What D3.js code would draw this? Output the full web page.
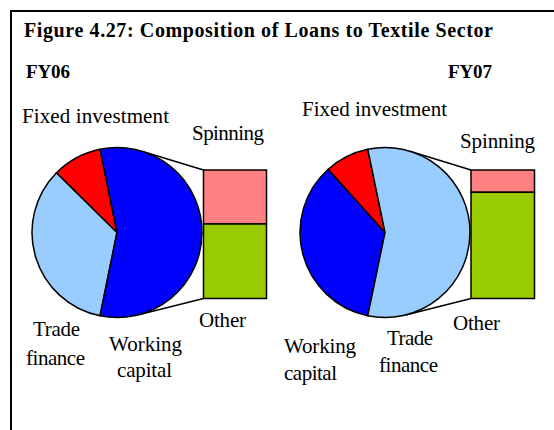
<!DOCTYPE html>
<html>
<head>
<meta charset="utf-8">
<script src="https://cdn.jsdelivr.net/npm/d3@7/dist/d3.min.js"></script>
<style>
    body { margin: 0; background: #fff; }
    svg { display: block; }
</style>
</head>
<body>
<script>
// chart values
var years = ["FY06", "FY07"];
var pieOrderFY06 = ["Trade finance", "Fixed investment", "Working capital"];
var pieValuesFY06 = [34.2, 9.4, 56.4];
var pieOrderFY07 = ["Working capital", "Fixed investment", "Trade finance"];
var pieValuesFY07 = [35.1, 8.4, 56.5];
var barCategories = ["Spinning", "Other"];
var barValuesFY06 = [23.7, 32.7];   // breakdown of the last pie slice
var barValuesFY07 = [9.8, 46.7];

var sliceColors = {
    "Fixed investment": "#FF0000",
    "Trade finance": "#99CCFF",
    "Working capital": "#0000FF"
};
var barColors = {"Spinning": "#FF8080", "Other": "#99CC00"};

var width = 554, height = 430;
var serif = "Liberation Serif";

var svg = d3.select("body").append("svg")
    .attr("width", width)
    .attr("height", height);

// frame, runs off the right and bottom edge like in the source
svg.append("rect")
    .attr("x", 11).attr("y", 11)
    .attr("width", 700).attr("height", 600)
    .attr("fill", "none")
    .attr("stroke", "#000")
    .attr("stroke-width", 2);

svg.append("text")
    .attr("x", 24).attr("y", 37)
    .attr("font-family", serif)
    .attr("font-size", 20).attr("font-weight", "bold")
    .attr("textLength", 469).attr("lengthAdjust", "spacing")
    .text("Figure 4.27: Composition of Loans to Textile Sector");

// one panel per year
var panels = [
    {
        year: years[0], order: pieOrderFY06, values: pieValuesFY06, bar: barValuesFY06,
        yearX: 26, cx: 117, cy: 232.5, r: 85, barX: 203.5, barW: 63, barTop: 170, barH: 128.5,
        labels: {
            "Fixed investment": [[22, 123, 147]],
            "Trade finance": [[33, 336, 47], [26, 365, 59]],
            "Working capital": [[109, 351, 73], [117, 377, 55]],
            "Spinning": [[192, 140, 72]],
            "Other": [[199, 327, 47]]
        }
    },
    {
        year: years[1], order: pieOrderFY07, values: pieValuesFY07, bar: barValuesFY07,
        yearX: 448, cx: 385, cy: 232.5, r: 85, barX: 471, barW: 63.5, barTop: 170, barH: 128.5,
        labels: {
            "Fixed investment": [[302, 116, 145]],
            "Working capital": [[284, 353, 72], [284, 380, 53]],
            "Trade finance": [[387, 345, 46], [379, 372, 59]],
            "Spinning": [[460, 148, 75]],
            "Other": [[453, 330, 47]]
        }
    }
];

// tangent point on circle (cx,cy,r) seen from point p, pick side by sign
function tangent(cx, cy, r, p, side) {
    var dx = p[0] - cx, dy = p[1] - cy;
    var d = Math.sqrt(dx * dx + dy * dy);
    var base = Math.atan2(dy, dx);
    var a = Math.acos(r / d);
    var t = base + side * a;
    return [cx + r * Math.cos(t), cy + r * Math.sin(t)];
}

panels.forEach(function (p) {
    var g = svg.append("g");

    g.append("text")
        .attr("x", p.yearX).attr("y", 78)
        .attr("font-family", serif)
        .attr("font-size", 19).attr("font-weight", "bold")
        .attr("textLength", 44).attr("lengthAdjust", "spacing")
        .text(p.year);

    var data = p.order.map(function (name, i) {
        return {name: name, value: p.values[i]};
    });
    var total = d3.sum(p.values);
    var split = p.values[p.values.length - 1];
    // split-off slice is centred on 3 o'clock
    var start = Math.PI / 2 + Math.PI * split / total;

    var pie = d3.pie()
        .sort(null)
        .value(function (d) { return d.value; })
        .startAngle(start)
        .endAngle(start + 2 * Math.PI);

    var arc = d3.arc().innerRadius(0).outerRadius(p.r);

    // connector lines from the bar corners, tangent to the pie
    var topCorner = [p.barX, p.barTop];
    var botCorner = [p.barX, p.barTop + p.barH];
    var t1 = tangent(p.cx, p.cy, p.r, topCorner, -1);
    var t2 = tangent(p.cx, p.cy, p.r, botCorner, 1);
    g.selectAll(".conn")
        .data([[t1, topCorner], [t2, botCorner]])
        .enter().append("line")
        .attr("class", "conn")
        .attr("x1", function (d) { return d[0][0]; })
        .attr("y1", function (d) { return d[0][1]; })
        .attr("x2", function (d) { return d[1][0]; })
        .attr("y2", function (d) { return d[1][1]; })
        .attr("stroke", "#000")
        .attr("stroke-width", 1.5);

    g.append("g")
        .attr("transform", "translate(" + p.cx + "," + p.cy + ")")
        .selectAll("path")
        .data(pie(data))
        .enter().append("path")
        .attr("d", arc)
        .attr("fill", function (d) { return sliceColors[d.data.name]; })
        .attr("stroke", "#000")
        .attr("stroke-width", 1.5)
        .attr("stroke-linejoin", "round");

    // stacked bar for the split-off slice
    var y = d3.scaleLinear()
        .domain([0, d3.sum(p.bar)])
        .range([p.barTop, p.barTop + p.barH]);
    var acc = 0;
    var segs = p.bar.map(function (v, i) {
        var s = {name: barCategories[i], y0: acc, y1: acc + v};
        acc += v;
        return s;
    });
    g.selectAll(".seg")
        .data(segs)
        .enter().append("rect")
        .attr("class", "seg")
        .attr("x", p.barX)
        .attr("width", p.barW)
        .attr("y", function (d) { return y(d.y0); })
        .attr("height", function (d) { return y(d.y1) - y(d.y0); })
        .attr("fill", function (d) { return barColors[d.name]; })
        .attr("stroke", "#000")
        .attr("stroke-width", 1.5);

    // category labels, two-word names wrap onto two lines
    p.order.concat(barCategories).forEach(function (name) {
        var lines = p.labels[name].length > 1 ? name.split(" ") : [name];
        p.labels[name].forEach(function (pos, i) {
            g.append("text")
                .attr("x", pos[0]).attr("y", pos[1])
                .attr("font-family", serif)
                .attr("font-size", 21)
                .attr("textLength", pos[2]).attr("lengthAdjust", "spacing")
                .text(lines[i]);
        });
    });
});
</script>
</body>
</html>
